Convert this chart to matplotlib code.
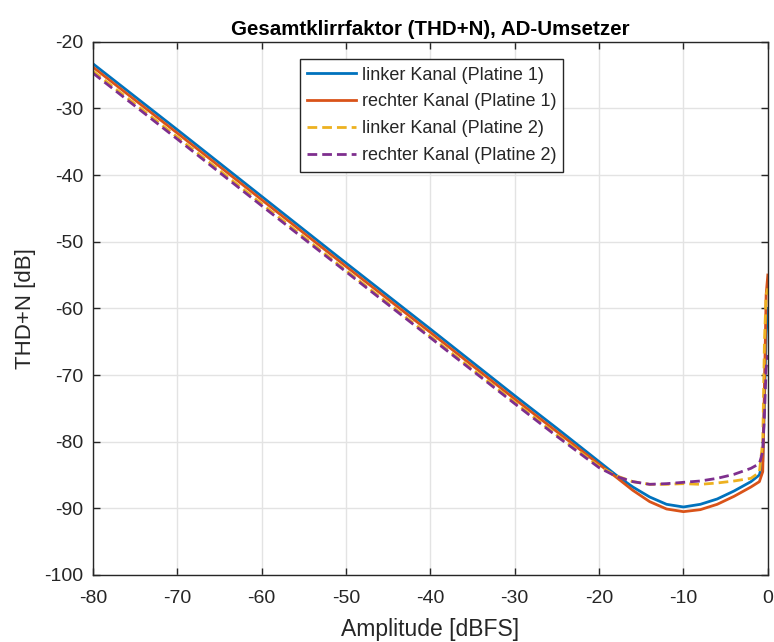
import matplotlib
matplotlib.use("Agg")
import matplotlib.pyplot as plt

plt.rcParams['font.family'] = ['Liberation Sans', 'DejaVu Sans']
plt.rcParams['axes.unicode_minus'] = False

# Amplitude [dBFS]
amp = [-80, -70, -60, -50, -40, -30, -25, -20, -18, -16, -14, -12, -10,
       -8, -6, -4, -2, -1, -0.6, -0.4, -0.2, 0]

# THD+N [dB]
links_p1 = [-23.3, -33.2, -43.2, -53.2, -63.1, -73.1, -78.0, -83.0, -85.0, -86.8,
            -88.3, -89.4, -89.8, -89.4, -88.6, -87.4, -86.0, -85.0, -83.0, -74.0,
            -64.0, -60.0]
rechts_p1 = [-23.8, -33.7, -43.7, -53.7, -63.6, -73.6, -78.5, -83.4, -85.3, -87.3,
             -89.0, -90.1, -90.5, -90.2, -89.4, -88.2, -86.8, -86.0, -84.5, -72.0,
             -58.0, -55.0]
links_p2 = [-24.4, -34.3, -44.3, -54.3, -64.2, -74.1, -79.0, -83.7, -85.1, -86.0,
            -86.4, -86.4, -86.3, -86.4, -86.2, -85.9, -85.5, -84.6, -80.0, -65.0,
            -58.0, -57.0]
rechts_p2 = [-24.7, -34.6, -44.6, -54.5, -64.4, -74.3, -79.2, -83.9, -85.2, -86.0,
             -86.4, -86.3, -86.1, -85.9, -85.5, -84.9, -84.0, -83.3, -81.5, -76.0,
             -69.0, -67.0]

fig = plt.figure(figsize=(7.74, 6.42), dpi=100)
ax = fig.add_axes([0.120, 0.1044, 0.872, 0.8306])

lw = 2.0
ax.plot(amp, links_p1, color='#0072BD', lw=lw, label='linker Kanal (Platine 1)')
ax.plot(amp, rechts_p1, color='#D95319', lw=lw, label='rechter Kanal (Platine 1)')
ax.plot(amp, links_p2, color='#EDB120', lw=lw, ls=(0, (3.5, 1.8)), label='linker Kanal (Platine 2)')
ax.plot(amp, rechts_p2, color='#7E2F8E', lw=lw, ls=(0, (3.5, 1.8)), label='rechter Kanal (Platine 2)')

ax.set_xlim(-80, 0)
ax.set_ylim(-100, -20)
ax.set_xticks(range(-80, 1, 10))
ax.set_yticks(range(-100, -19, 10))
ax.grid(True, color='#e3e3e3', lw=1)
ax.set_axisbelow(True)
ax.tick_params(direction='in', top=True, right=True, labelsize=14, colors='#262626',
               length=5, width=1, labelcolor='#262626')
ax.tick_params(axis='x', pad=11)
ax.tick_params(axis='y', pad=7)
for s in ax.spines.values():
    s.set_color('#262626')
    s.set_linewidth(1)

ax.set_xlabel('Amplitude [dBFS]', fontsize=16.5, color='#262626', labelpad=8)
ax.set_ylabel('THD+N [dB]', fontsize=16, color='#262626', labelpad=6)
ax.set_title('Gesamtklirrfaktor (THD+N), AD-Umsetzer', fontsize=14.8, fontweight='bold', pad=5)

leg = ax.legend(loc='upper center', bbox_to_anchor=(0.502, 0.967), fontsize=13,
                handlelength=2.7, handletextpad=0.3, labelspacing=0.55,
                borderpad=0.4, borderaxespad=0, fancybox=False, framealpha=1,
                edgecolor='#262626')
leg.get_frame().set_linewidth(1)
for t in leg.get_texts():
    t.set_color('#262626')

fig.savefig('out.png', dpi=100)
